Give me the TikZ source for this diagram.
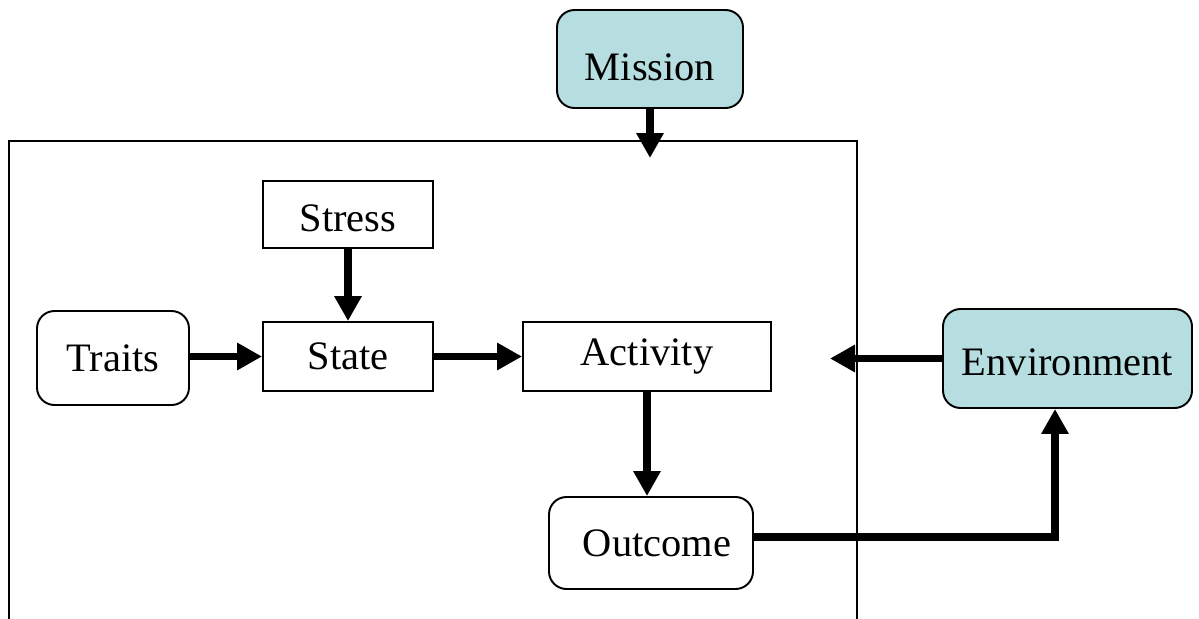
\documentclass[tikz,border=0pt]{standalone}
\usepackage{fontspec}
\setmainfont{Liberation Serif}
\usetikzlibrary{arrows.meta}
\definecolor{boxteal}{RGB}{182,221,224}
\newcommand{\lowered}[2]{\raisebox{-#1}[\height][\depth]{#2}}

\begin{document}
\begin{tikzpicture}[
    font=\fontsize{23}{27}\selectfont,
    plain/.style={shape=rectangle,draw=black,line width=1.1pt,inner sep=0pt},
    soft/.style={plain,rounded corners=0.35cm},
    outside/.style={soft,fill=boxteal},
    flow/.style={line width=4pt,-{Triangle[length=0.5cm,width=0.52cm]}}
  ]
\useasboundingbox (0,0) rectangle (23.98,-12.38);
% outer frame, open at the bottom
\draw[line width=1.1pt] (0.18,-12.38) |- (17.14,-2.82) -- (17.14,-12.38);
\node[outside,minimum width=3.72cm,minimum height=1.96cm] (mission) at (13.0,-1.18) {\lowered{0.16cm}{Mission}};
\node[plain,minimum width=3.4cm,minimum height=1.34cm] (stress) at (6.96,-4.29) {\lowered{0.08cm}{Stress}};
\node[soft,minimum width=3.04cm,minimum height=1.88cm] (traits) at (2.26,-7.16) {Traits};
\node[plain,minimum width=3.4cm,minimum height=1.38cm] (state) at (6.96,-7.13) {State};
\node[plain,minimum width=4.96cm,minimum height=1.38cm] (activity) at (12.94,-7.13) {Activity};
\node[soft,minimum width=4.08cm,minimum height=1.84cm] (outcome) at (13.02,-10.86) {\hspace{0.24cm}Outcome};
\node[outside,minimum width=4.98cm,minimum height=1.98cm] (environment) at (21.35,-7.17) {\lowered{0.08cm}{Environment}};
\coordinate (missionin) at (13.0,-3.16);
\coordinate (envin) at (16.6,-7.17);
\path[flow] (mission.south) edge (missionin);
\path[flow] (stress) edge (state);
\path[flow] (state.west -| traits.east) edge (state.west);
\path[flow] (state) edge (activity);
\path[flow] (activity.south) edge (activity.south |- outcome.north);
\path[flow] (environment) edge (envin);
\draw[flow] ([yshift=0.12cm]outcome.east) -| ([xshift=-0.25cm]environment.south);
\end{tikzpicture}
\end{document}
